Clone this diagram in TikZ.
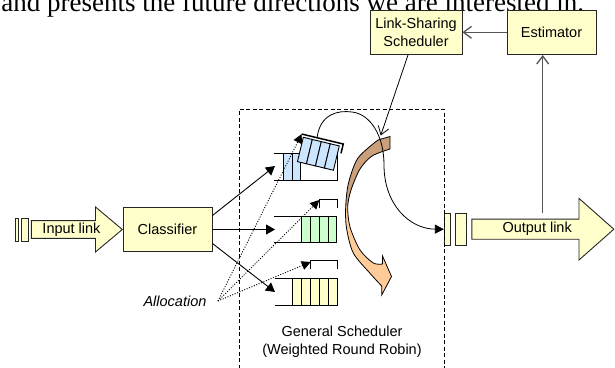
\documentclass[tikz,border=0pt]{standalone}
\usepackage{fontspec}
\setmainfont{Liberation Sans}
\newfontfamily\paperfont{Liberation Serif}
\usetikzlibrary{arrows.meta}
\usetikzlibrary{shapes.arrows}
\definecolor{paleyellow}{HTML}{FFFFCC}
\definecolor{paleblue}{HTML}{CCE6FF}
\definecolor{palegreen}{HTML}{CCFFCC}
\definecolor{arcbrown}{HTML}{C9A07A}
\definecolor{arcpeach}{HTML}{FFCC99}
\definecolor{wiregray}{HTML}{555555}
\newcommand\figsize{\fontsize{14.5}{17.5}\selectfont}
\tikzset{Block/.style={draw=black!85, fill=paleyellow, inner sep=0pt, align=center, minimum width=#1, minimum height=44.5pt}}

\begin{document}
\begin{tikzpicture}[x=1pt, y=-1pt, font=\figsize, line width=0.9pt,
        Pipe/.style={single arrow, draw=black!85, fill=paleyellow, inner sep=0pt, single arrow head indent=0pt},
        Bar/.style={draw=black!85, fill=paleyellow, inner sep=0pt, minimum width=#1},
        Solid/.style={-{Triangle[length=9pt,width=10pt]}},
        Dots/.style={dash pattern=on 1pt off 1.6pt, -{Triangle[length=9pt,width=9pt]}},
        Wire/.style={wiregray, line width=1.3pt, -{Straight Barb[length=8pt,width=12pt]}}]
        % \draw[help lines, gray] (0,0) grid[step=50] (615,367);
        \useasboundingbox (0,0) rectangle (615,367);

        % last line of the running text, cut by the page edge
        \node[anchor=base west, inner sep=0pt, font=\paperfont\fontsize{27}{30}\selectfont] (T) at (1,11.5) {and presents the future directions we are interested in.};

        % input side
        \node[Bar=3.3pt, minimum height=23pt] (IB1) at (16.7,229.5) {};
        \node[Bar=7pt, minimum height=23pt] (IB2) at (24.8,229.5) {};
        \node[Pipe, minimum height=91pt, minimum width=45pt, single arrow head extend=11pt, single arrow tip angle=80, anchor=tip] (IL) at (123,229.5) {Input link};
        \node[Block=89pt] (C) at (167.5,229.5) {Classifier};

        % control loop on top
        \node[Block=92pt] (LS) at (416,32.3) {Link-Sharing\\Scheduler};
        \node[Block=89pt] (E) at (551.5,32.3) {Estimator};

        % output side
        \node[Bar=5.7pt, minimum height=31.7pt] (OB1) at (447.2,229.2) {};
        \node[Bar=11pt, minimum height=31.7pt] (OB2) at (461.2,229.2) {};
        \node[Pipe, minimum height=142pt, minimum width=61.7pt, single arrow head extend=15pt, single arrow tip angle=83, anchor=tip] (OL) at (614.5,229.2) {Output link};

        % scheduler frame
        \draw[dash pattern=on 4pt off 2.5pt] (239,375) |- (444,109) -- (444,375);
        \node[align=center] (GS) at (342,341.5) {General Scheduler\\(Weighted Round Robin)};
        \node[font=\figsize\itshape, inner xsep=11pt] (Al) at (175,301) {Allocation};

        % queue 1, head packets lifted out for service
        \draw (274,153.3) -- (301,153.3);
        \draw (274,180) -- (337.3,180) -- (337.3,146);
        \foreach \x in {283.3,292.1} \draw[fill=paleblue] (\x,153.3) rectangle ++(8.8,26.7);
        \begin{scope}[shift={(303.3,137.3)}, rotate=-13.5]
                \foreach \i in {0,...,3} \draw[fill=paleblue] (\i*9.25,0) rectangle ++(9.25,25);
                \draw[line width=1.5pt] (-2.3,-2.8) -- (40.4,-2.8) -- (40.4,6.8);
                \coordinate (S1) at (-2.3,-2.8);
                \coordinate (L1) at (13.5,-2.8);
        \end{scope}

        % queue 2
        \draw (274.3,216) -- (336.7,216);
        \draw (274.3,242.3) -- (336.7,242.3);
        \foreach \i in {0,...,3} \draw[fill=palegreen] (301.7+\i*8.75,216) rectangle ++(8.75,26.3);
        \draw (319.3,208) |- (337,199) -- (337,208);

        % queue 3
        \draw (275,278.3) -- (337.3,278.3);
        \draw (275,305) -- (337.3,305);
        \foreach \i in {0,...,4} \draw[fill=paleyellow] (292.3+\i*9,278.3) rectangle ++(9,26.7);
        \draw (310.7,269.3) |- (337.3,260.7) -- (337.3,269.3);

        \coordinate (Q1) at (275,166);
        \coordinate (Q2) at (275,229.5);
        \coordinate (Q3) at (275,292);
        \coordinate (S2) at (319.3,200);
        \coordinate (S3) at (310.7,262);
        \coordinate (Arc) at (380.7,135.5);
        \coordinate (OLtop) at (542.7,213.3);

        % round robin sweep
        \fill[arcbrown] plot[smooth] coordinates {(378,140) (358,158) (348.5,183) (345.7,206.7)}
                -- plot[smooth] coordinates {(347.7,206.7) (351,190) (360,169) (372,156) (390,149)}
                -- (390,136.5) -- cycle;
        \fill[arcpeach] plot[smooth] coordinates {(345.7,206.7) (346.5,228) (353.3,253) (370,273.3) (381.7,286)}
                -- (381.7,295) -- (391.5,276.5) -- (382.5,256) -- (382.5,264)
                -- plot[smooth] coordinates {(382.5,264) (373.3,263) (360,250) (350,227) (347.7,206.7)} -- cycle;
        \draw[line width=0.8pt] plot[smooth] coordinates {(378,140) (358,158) (348.5,183) (345.7,206.7) (346.5,228) (353.3,253) (370,273.3) (381.7,286)}
                -- (381.7,295) -- (391.5,276.5) -- (382.5,256) -- (382.5,264)
                -- plot[smooth] coordinates {(382.5,264) (373.3,263) (360,250) (350,227) (347.7,206.7) (351,190) (360,169) (372,156) (390,149)}
                -- (390,136.5) -- cycle;

        \draw[Solid] ([yshift=14pt]C.east) -- (Q1);
        \draw[Solid] (C.east) -- (Q2);
        \draw[Solid] ([yshift=-14pt]C.east) -- (Q3);
        \draw[Dots] (Al.east) -- (S1);
        \draw[Dots] (Al.east) -- (S2);
        \draw[Dots] (Al.east) -- (S3);

        \draw[line width=0.8pt, -{Triangle[length=9pt,width=9pt]}] (L1) .. controls (320,114) and (338,110) .. (352,112)
                .. controls (370,114) and (384,135) .. (384,165)
                .. controls (384,205) and (410,229) .. (OB1.west);
        \draw[line width=0.8pt, -{Straight Barb[length=8pt,width=11pt]}] ([xshift=-8pt]LS.south) -- (Arc);
        \draw[Wire] (E) -- (LS);
        \draw[Wire] (OLtop) -- (OLtop |- E.south);

    \end{tikzpicture}
\end{document}
